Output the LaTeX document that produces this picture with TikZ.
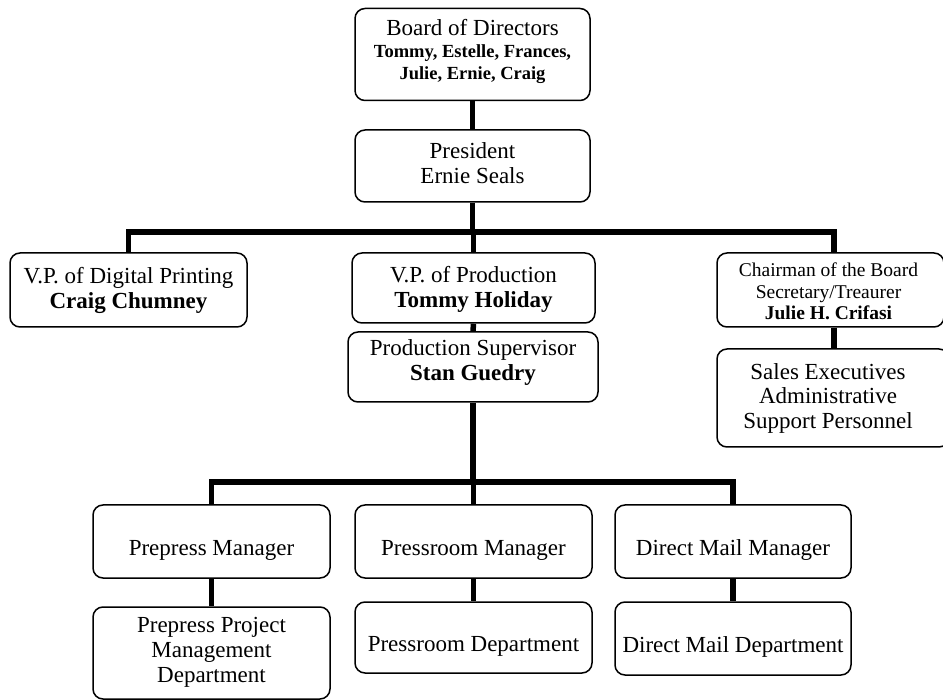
\documentclass[tikz,border=0pt]{standalone}
\usepackage{fontspec}
\setmainfont{Liberation Serif}
\usetikzlibrary{backgrounds}
\begin{document}
\begin{tikzpicture}[x=1pt,y=-1pt,
  box/.style={draw, line width=1.5pt, rounded corners=10pt, fill=white, inner sep=0pt},
  txt/.style={align=center, inner sep=0pt, font=\fontsize{23}{25}\selectfont},
  small/.style={align=center, inner sep=0pt, font=\fontsize{19.5}{21.5}\selectfont},
  link/.style={line width=5.5pt}]
\useasboundingbox (0,0) rectangle (943,700);
% top of the chart
\node[box, minimum width=235pt, minimum height=92pt,
  label={[txt, font=\fontsize{23}{22}\selectfont, yshift=3pt]center:{Board of Directors\\{\bfseries\fontsize{18.5}{21.5}\selectfont Tommy, Estelle, Frances,}\\{\bfseries\fontsize{18.5}{21.5}\selectfont Julie, Ernie, Craig}}}]
  (board) at (472.5,54.5) {};
\node[box, minimum width=235pt, minimum height=72pt,
  label={[txt, yshift=3pt]center:{President\\Ernie Seals}}] (pres) at (472.5,166) {};
% vice presidents
\node[box, minimum width=237pt, minimum height=74pt,
  label={[txt]center:{V.P. of Digital Printing\\\textbf{Craig Chumney}}}] (vpdig) at (128.5,290) {};
\node[box, minimum width=243pt, minimum height=70pt,
  label={[txt, yshift=-1pt]center:{V.P. of Production\\\textbf{Tommy Holiday}}}] (vpprod) at (473.5,288) {};
\node[box, minimum width=227pt, minimum height=74pt,
  label={[small, xshift=-2pt, yshift=-1.5pt]center:{Chairman of the Board\\Secretary/Treaurer\\\textbf{Julie H. Crifasi}}}] (chair) at (830.5,290) {};
\node[box, minimum width=232pt, minimum height=98pt,
  label={[txt, font=\fontsize{23}{24.5}\selectfont, xshift=-5pt]center:{Sales Executives\\Administrative\\Support Personnel}}] (sales) at (833,398) {};
\node[box, minimum width=250pt, minimum height=70pt,
  label={[txt, yshift=4pt]center:{Production Supervisor\\\textbf{Stan Guedry}}}] (super) at (473,367) {};
% managers
\node[box, minimum width=237pt, minimum height=73pt,
  label={[txt, yshift=-9pt]center:{Prepress Manager}}] (prepm) at (211.5,541.5) {};
\node[box, minimum width=237pt, minimum height=73pt,
  label={[txt, yshift=-9pt]center:{Pressroom Manager}}] (pressm) at (473.5,541.5) {};
\node[box, minimum width=236pt, minimum height=73pt,
  label={[txt, yshift=-9pt]center:{Direct Mail Manager}}] (mailm) at (733,541.5) {};
% departments
\node[box, minimum width=237pt, minimum height=92pt,
  label={[txt, yshift=1pt]center:{Prepress Project\\Management\\Department}}] (prepd) at (211.5,653) {};
\node[box, minimum width=237pt, minimum height=71pt,
  label={[txt, yshift=-9pt]center:{Pressroom Department}}] (pressd) at (473.5,637.5) {};
\node[box, minimum width=236pt, minimum height=73pt,
  label={[txt, yshift=-8pt]center:{Direct Mail Department}}] (maild) at (733,638.5) {};
% connectors
\coordinate (busA) at (0,232);
\coordinate (busB) at (0,482);
\begin{scope}[on background layer]
  \draw[link] (board.south) -- (pres.north);
  \draw[link] (pres.south) -- (pres.south |- busA);
  \draw[link, line cap=rect] (vpdig.north) -- (vpdig.north |- busA) -- ([xshift=3.5pt]chair.north |- busA) -- ([xshift=3.5pt]chair.north);
  \draw[link] (vpprod.north |- busA) -- (vpprod.north);
  \draw[link] (vpprod.south) -- (super.north);
  \draw[link] ([xshift=3.5pt]chair.south) -- ([xshift=3.5pt]chair.south |- sales.north);
  \draw[link] (super.south) -- (super.south |- busB);
  \draw[link, line cap=rect] (prepm.north) -- (prepm.north |- busB) -- (mailm.north |- busB) -- (mailm.north);
  \draw[link] (pressm.north |- busB) -- (pressm.north);
  \draw[link] (prepm.south) -- (prepd.north);
  \draw[link] (pressm.south) -- (pressd.north);
  \draw[link] (mailm.south) -- (maild.north);
\end{scope}
\end{tikzpicture}
\end{document}
